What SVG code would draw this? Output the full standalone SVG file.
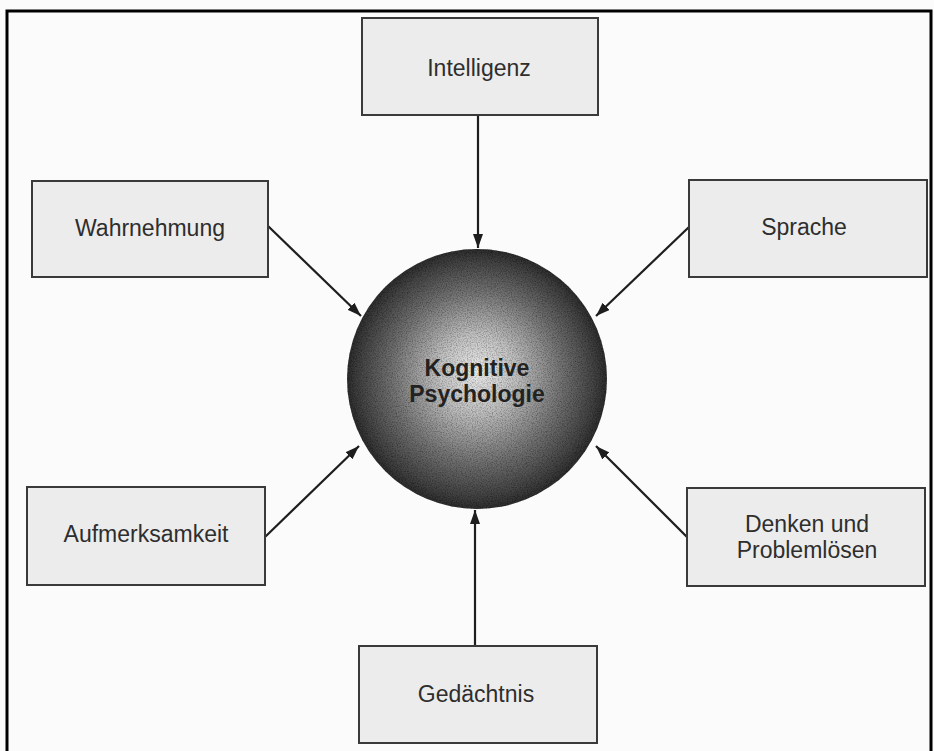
<svg xmlns="http://www.w3.org/2000/svg" width="934" height="751" viewBox="0 0 934 751">
  <defs>
    <radialGradient id="sphere" cx="0.5" cy="0.5" r="0.5" fx="0.5" fy="0.47">
      <stop offset="0" stop-color="#eeeeee"/>
      <stop offset="0.3" stop-color="#c2c2c2"/>
      <stop offset="0.65" stop-color="#747474"/>
      <stop offset="0.9" stop-color="#444"/>
      <stop offset="1" stop-color="#2e2e2e"/>
    </radialGradient>
    <filter id="grain" x="0" y="0" width="1" height="1">
      <feTurbulence type="fractalNoise" baseFrequency="0.8" numOctaves="2" seed="3" result="n"/>
      <feColorMatrix in="n" type="matrix" values="0 0 0 0 0  0 0 0 0 0  0 0 0 0 0  0 0 0 -1.2 0.75" result="dots"/>
      <feComposite in="dots" in2="SourceGraphic" operator="in" result="d2"/>
      <feMerge><feMergeNode in="SourceGraphic"/><feMergeNode in="d2"/></feMerge>
    </filter>
    <marker id="arrow" viewBox="0 0 14 10" refX="14" refY="5" markerWidth="14" markerHeight="10" markerUnits="userSpaceOnUse" orient="auto">
      <path d="M0,0 L14,5 L0,10 Z" fill="#1e1e1e"/>
    </marker>
  </defs>
  <style>
    .box { fill: #ececec; stroke: #3a3a3a; stroke-width: 2; }
    .lbl { font-family: "Liberation Sans", Arial, sans-serif; font-size: 23px; fill: #2e2e2e; text-anchor: middle; }
    .ctr { font-family: "Liberation Sans", Arial, sans-serif; font-size: 23px; font-weight: bold; fill: #222; text-anchor: middle; }
    .conn { stroke: #1e1e1e; stroke-width: 2.2; fill: none; marker-end: url(#arrow); }
  </style>
  <rect x="0" y="0" width="934" height="751" fill="#fbfbfb"/>
  <path d="M7,760 L7,11 L931,11 L931,760" fill="none" stroke="#000" stroke-width="3"/>

  <g id="connectors">
    <line class="conn" x1="478" y1="115" x2="478" y2="248"/>
    <line class="conn" x1="268" y1="226" x2="361" y2="316"/>
    <line class="conn" x1="689" y1="227" x2="596" y2="316"/>
    <line class="conn" x1="265" y1="537" x2="359" y2="446"/>
    <line class="conn" x1="687" y1="537" x2="596" y2="446"/>
    <line class="conn" x1="475" y1="646" x2="475" y2="510"/>
  </g>

  <g id="center">
    <circle cx="477" cy="379" r="130" fill="url(#sphere)" filter="url(#grain)"/>
    <text class="ctr" x="477" y="376">Kognitive</text>
    <text class="ctr" x="477" y="402">Psychologie</text>
  </g>

  <g id="intelligenz">
    <rect class="box" x="362" y="18" width="236" height="97"/>
    <text class="lbl" x="479" y="76">Intelligenz</text>
  </g>
  <g id="wahrnehmung">
    <rect class="box" x="32" y="181" width="236" height="96"/>
    <text class="lbl" x="150" y="236">Wahrnehmung</text>
  </g>
  <g id="sprache">
    <rect class="box" x="689" y="180" width="238" height="97"/>
    <text class="lbl" x="804" y="235">Sprache</text>
  </g>
  <g id="aufmerksamkeit">
    <rect class="box" x="27" y="487" width="238" height="98"/>
    <text class="lbl" x="146" y="542">Aufmerksamkeit</text>
  </g>
  <g id="denken">
    <rect class="box" x="687" y="488" width="238" height="98"/>
    <text class="lbl" x="807" y="532">Denken und</text>
    <text class="lbl" x="807" y="558">Problemlösen</text>
  </g>
  <g id="gedaechtnis">
    <rect class="box" x="359" y="646" width="238" height="97"/>
    <text class="lbl" x="476" y="702">Gedächtnis</text>
  </g>
</svg>
